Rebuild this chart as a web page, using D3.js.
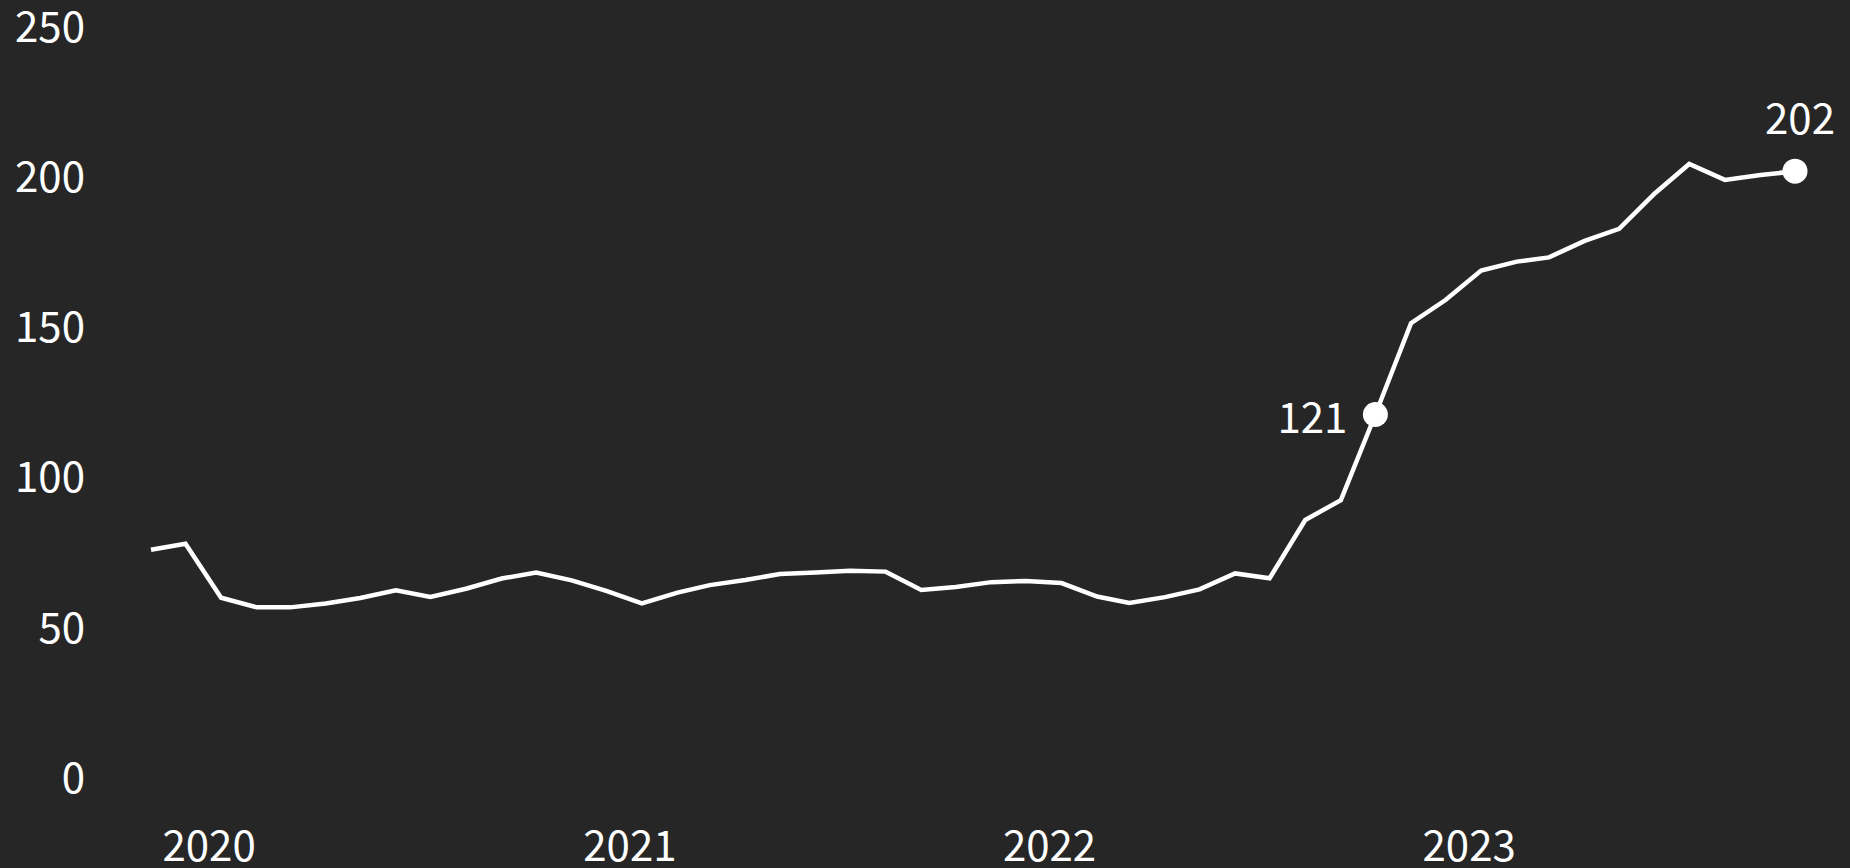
<!DOCTYPE html>
<html lang="en">
<head>
    <meta charset="UTF-8">
    <title>line</title>
    <script src="https://cdn.jsdelivr.net/npm/d3@7/dist/d3.min.js"></script>
    <style>
        body { margin: 0; background: #262626; }
        text { font-family: "Noto Sans CJK SC", "Noto Sans", sans-serif; fill: #fff; }
    </style>
</head>
<body>

<svg width="1850" height="868"></svg>

</body>

<script>

    // monthly values, Nov 2019 - Oct 2023
    var startMonth = "2019-11";
    var values = [76, 78, 60, 56.8, 56.8, 58.1, 59.9, 62.5, 60.3, 63.0,
        66.4, 68.4, 65.8, 62.3, 58.1, 61.7, 64.2, 65.9, 67.9, 68.4,
        69.0, 68.7, 62.6, 63.6, 65.2, 65.6, 64.9, 60.4, 58.3, 60.2,
        62.8, 68.1, 66.5, 85.9, 92.5, 121, 151.4, 159.1, 168.9, 171.9,
        173.3, 178.8, 182.8, 194.6, 204.4, 199.1, 200.7, 202];

    var yTicks = [0, 50, 100, 150, 200, 250];
    var xTicks = ["2020", "2021", "2022", "2023"];

    // points that get a dot + label
    var marked = [35, 47];

    var parseMonth = d3.timeParse("%Y-%m");
    var t0 = parseMonth(startMonth);
    var data = values.map(function (v, i) {
        return {date: d3.timeMonth.offset(t0, i), value: v};
    });

    var svg = d3.select("svg");

    var x = d3.scaleTime()
        .domain(d3.extent(data, function (d) { return d.date; }))
        .range([151, 1795]);

    var y = d3.scaleLinear()
        .domain([0, 250])
        .range([778, 27]);

    // y labels
    svg.append("g")
        .selectAll("text")
        .data(yTicks)
        .enter()
        .append("text")
        .attr("x", 85)
        .attr("y", function (d) { return y(d); })
        .attr("dy", "0.35em")
        .attr("text-anchor", "end")
        .attr("font-size", 42)
        .text(function (d) { return d; });

    // x labels
    svg.append("g")
        .selectAll("text")
        .data(xTicks)
        .enter()
        .append("text")
        .attr("x", function (d) { return x(d3.timeParse("%Y")(d)) - 12; })
        .attr("y", 861)
        .attr("text-anchor", "middle")
        .attr("font-size", 42)
        .text(function (d) { return d; });

    var line = d3.line()
        .x(function (d) { return x(d.date); })
        .y(function (d) { return y(d.value); });

    svg.append("path")
        .datum(data)
        .attr("d", line)
        .attr("fill", "none")
        .attr("stroke", "#fff")
        .attr("stroke-width", 4.5)
        .attr("stroke-linejoin", "miter");

    var dots = svg.append("g")
        .selectAll("g")
        .data(marked.map(function (i) { return {i: i, d: data[i]}; }))
        .enter()
        .append("g")
        .attr("transform", function (m) {
            return "translate(" + x(m.d.date) + "," + y(m.d.value) + ")";
        });

    dots.append("circle")
        .attr("r", 12.5)
        .attr("fill", "#fff");

    dots.append("text")
        .attr("font-size", 42)
        .attr("text-anchor", function (m) { return m.i === values.length - 1 ? "middle" : "end"; })
        .attr("x", function (m) { return m.i === values.length - 1 ? 5 : -28; })
        .attr("y", function (m) { return m.i === values.length - 1 ? -37 : 18; })
        .text(function (m) { return Math.round(m.d.value); });

</script>

</html>
